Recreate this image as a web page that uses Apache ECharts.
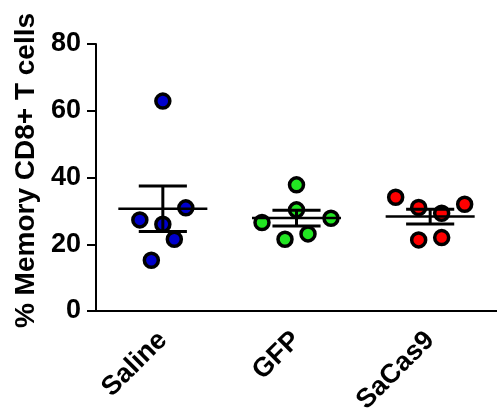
<!DOCTYPE html>
<html>
<head>
<meta charset="utf-8">
<script src="https://cdn.jsdelivr.net/npm/echarts@6/dist/echarts.min.js"></script>
<style>
  html, body { margin: 0; padding: 0; background: #fff; }
  #chart { width: 497px; height: 418px; }
</style>
</head>
<body>
<div id="chart"></div>
<script>
// Group names on the x axis
const categories = ['Saline', 'GFP', 'SaCas9'];
// % memory CD8+ T cells per animal, in entry order
const saline = [15.2, 21.5, 26.0, 27.3, 30.9, 62.9];
const gfp = [21.5, 23.1, 26.5, 27.8, 30.3, 37.8];
const saCas9 = [21.3, 22.0, 31.0, 29.3, 34.1, 32.0];
// y axis ticks
const yTicks = [0, 20, 40, 60, 80];

const groups = [saline, gfp, saCas9];
const fills = ['#0000cc', '#22e622', '#ff0000'];
const FONT = '"Liberation Sans", Arial, sans-serif';

// Scatter-dot spreading: values close together share a row and are
// fanned out sideways in lanes, filled in entry order.
const ROW_SPAN = 7;      // value range that counts as one row
const LANE_PX = 23;      // horizontal lane spacing in px
const laneOrder = {
  1: [0],
  2: [-0.5, 0.5],
  3: [0, -1, 1],
  4: [-0.5, 0.5, -1.5, 1.5],
  5: [0, -1, 1, -2, 2],
  6: [-0.5, 0.5, -1.5, 1.5, -2.5, 2.5]
};
function lanesFor(values) {
  const idx = values.map((v, i) => i).sort((a, b) => values[a] - values[b]);
  const rows = [];
  let cur = null;
  idx.forEach(i => {
    if (!cur || values[i] - values[cur[0]] > ROW_SPAN) { cur = [i]; rows.push(cur); }
    else cur.push(i);
  });
  const lanes = new Array(values.length).fill(0);
  rows.forEach(r => {
    const order = laneOrder[r.length] || r.map((_, k) => k - (r.length - 1) / 2);
    r.slice().sort((a, b) => a - b).forEach((i, k) => { lanes[i] = order[k]; });
  });
  return lanes;
}

function meanSem(values) {
  const n = values.length;
  const m = values.reduce((s, v) => s + v, 0) / n;
  const sd = Math.sqrt(values.reduce((s, v) => s + (v - m) * (v - m), 0) / (n - 1));
  return [m, sd / Math.sqrt(n)];
}

const scatterSeries = groups.map((vals, ci) => {
  const lanes = lanesFor(vals);
  return {
    type: 'scatter',
    symbol: 'circle',
    symbolSize: 14,
    z: 2,
    itemStyle: { color: fills[ci], borderColor: '#000', borderWidth: 3.5, opacity: 1 },
    data: vals.map((v, i) => ({ value: [ci, v], symbolOffset: [lanes[i] * LANE_PX, 0] })),
    silent: true
  };
});

const summary = groups.map((vals, ci) => {
  const [m, sem] = meanSem(vals);
  return [ci, m, m - sem, m + sem];
});

const errorSeries = {
  type: 'custom',
  z: 5,
  silent: true,
  data: summary,
  renderItem: function (params, api) {
    const ci = api.value(0);
    const c = api.coord([ci, api.value(1)]);
    const lo = api.coord([ci, api.value(2)]);
    const hi = api.coord([ci, api.value(3)]);
    const band = api.size([1, 0])[0];
    const meanHalf = band * 0.333;
    const capHalf = band * 0.18;
    const stroke = { stroke: '#000', lineWidth: 3 };
    return {
      type: 'group',
      children: [
        { type: 'line', shape: { x1: c[0] - meanHalf, y1: c[1], x2: c[0] + meanHalf, y2: c[1] }, style: { stroke: '#000', lineWidth: 2.5 } },
        { type: 'line', shape: { x1: c[0], y1: hi[1], x2: c[0], y2: lo[1] }, style: stroke },
        { type: 'line', shape: { x1: c[0] - capHalf, y1: hi[1], x2: c[0] + capHalf, y2: hi[1] }, style: stroke },
        { type: 'line', shape: { x1: c[0] - capHalf, y1: lo[1], x2: c[0] + capHalf, y2: lo[1] }, style: stroke }
      ]
    };
  }
};

const chart = echarts.init(document.getElementById('chart'), null, { renderer: 'canvas' });
chart.setOption({
  animation: false,
  backgroundColor: '#fff',
  grid: { left: 96, right: 0, top: 44, bottom: 107, containLabel: false, outerBoundsMode: 'none' },
  xAxis: {
    type: 'category',
    data: categories,
    boundaryGap: true,
    axisLine: { lineStyle: { color: '#000', width: 2 } },
    axisTick: { alignWithLabel: true, length: 8, lineStyle: { color: '#000', width: 2 } },
    axisLabel: {
      rotate: 45, margin: 25, color: '#000', fontSize: 27, fontWeight: 'bold', fontFamily: FONT
    },
    splitLine: { show: false }
  },
  yAxis: {
    type: 'value',
    min: yTicks[0],
    max: yTicks[yTicks.length - 1],
    interval: yTicks[1] - yTicks[0],
    name: '% Memory CD8+ T cells',
    nameLocation: 'middle',
    nameGap: 55,
    nameTextStyle: {
      color: '#000', fontSize: 28, fontWeight: 'bold', fontFamily: FONT, padding: [0, 0, 0, 14]
    },
    axisLine: { show: true, lineStyle: { color: '#000', width: 2 } },
    axisTick: { show: true, length: 9, lineStyle: { color: '#000', width: 2 } },
    axisLabel: { margin: 15, color: '#000', fontSize: 27, fontWeight: 'bold', fontFamily: FONT },
    splitLine: { show: false }
  },
  series: scatterSeries.concat([errorSeries])
});
</script>
</body>
</html>
